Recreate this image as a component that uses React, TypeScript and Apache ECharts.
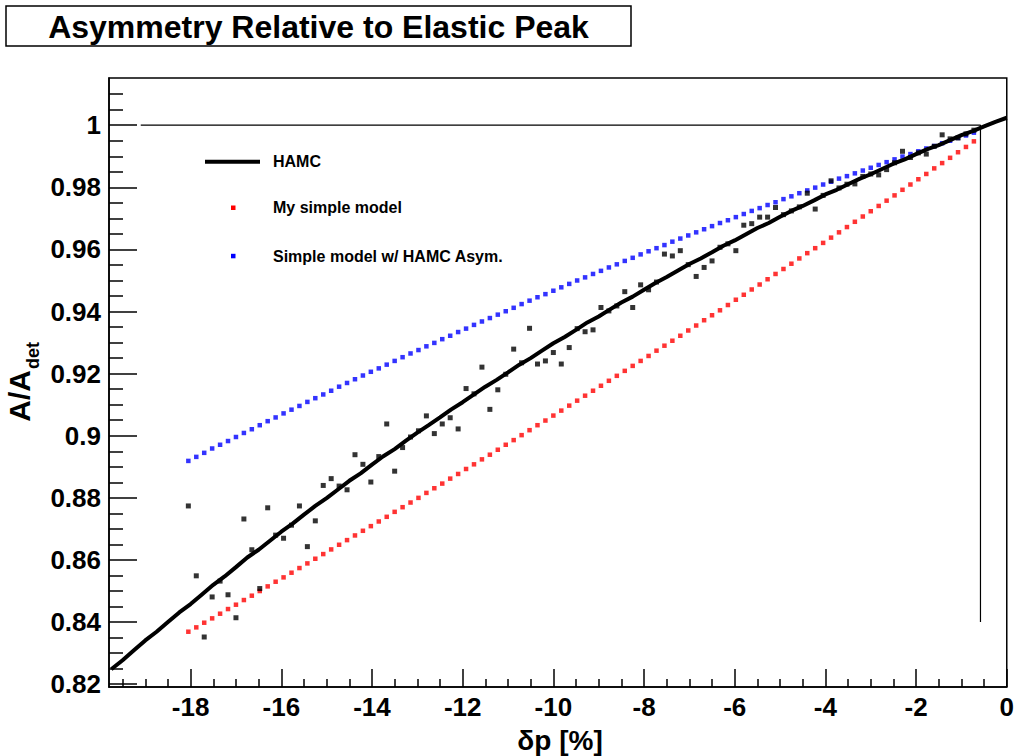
import React, { useEffect, useRef } from "react";
import * as echarts from "echarts";

// delta p [%] bin centres shared by the three point series
const DP = [
  -18.05, -17.875, -17.7, -17.525, -17.35, -17.175, -17, -16.825, -16.65, -16.475,
  -16.3, -16.125, -15.95, -15.775, -15.6, -15.425, -15.25, -15.075, -14.9, -14.725,
  -14.55, -14.375, -14.2, -14.025, -13.85, -13.675, -13.5, -13.325, -13.15, -12.975,
  -12.8, -12.625, -12.45, -12.275, -12.1, -11.925, -11.75, -11.575, -11.4, -11.225,
  -11.05, -10.875, -10.7, -10.525, -10.35, -10.175, -10, -9.825, -9.65, -9.475,
  -9.3, -9.125, -8.95, -8.775, -8.6, -8.425, -8.25, -8.075, -7.9, -7.725,
  -7.55, -7.375, -7.2, -7.025, -6.85, -6.675, -6.5, -6.325, -6.15, -5.975,
  -5.8, -5.625, -5.45, -5.275, -5.1, -4.925, -4.75, -4.575, -4.4, -4.225,
  -4.05, -3.875, -3.7, -3.525, -3.35, -3.175, -3, -2.825, -2.65, -2.475,
  -2.3, -2.125, -1.95, -1.775, -1.6, -1.425, -1.25, -1.075, -0.9, -0.725,
];

// "My simple model" (red)
const RED = [
  0.8369, 0.8383, 0.8398, 0.8412, 0.8427, 0.8442, 0.8456, 0.8471, 0.8485, 0.85,
  0.8515, 0.853, 0.8544, 0.8559, 0.8574, 0.8589, 0.8604, 0.8619, 0.8634, 0.8649,
  0.8664, 0.8679, 0.8694, 0.8709, 0.8724, 0.8739, 0.8755, 0.877, 0.8785, 0.88,
  0.8816, 0.8831, 0.8846, 0.8862, 0.8877, 0.8893, 0.8908, 0.8924, 0.8939, 0.8955,
  0.8971, 0.8986, 0.9002, 0.9018, 0.9034, 0.9049, 0.9065, 0.9081, 0.9097, 0.9113,
  0.9129, 0.9145, 0.9161, 0.9177, 0.9193, 0.9209, 0.9225, 0.9241, 0.9257, 0.9274,
  0.929, 0.9306, 0.9322, 0.9339, 0.9355, 0.9372, 0.9388, 0.9404, 0.9421, 0.9438,
  0.9454, 0.9471, 0.9487, 0.9504, 0.9521, 0.9537, 0.9554, 0.9571, 0.9588, 0.9604,
  0.9621, 0.9638, 0.9655, 0.9672, 0.9689, 0.9706, 0.9723, 0.974, 0.9757, 0.9774,
  0.9792, 0.9809, 0.9826, 0.9843, 0.9861, 0.9878, 0.9895, 0.9913, 0.993, 0.9948,
];

// "Simple model w/ HAMC Asym." (blue)
const BLUE = [
  0.8919, 0.8932, 0.8945, 0.8959, 0.8971, 0.8983, 0.8996, 0.9009, 0.9021, 0.9034,
  0.9047, 0.9059, 0.9072, 0.9084, 0.9096, 0.9109, 0.9121, 0.9133, 0.9145, 0.9158,
  0.917, 0.9182, 0.9194, 0.9206, 0.9217, 0.9229, 0.9241, 0.9253, 0.9265, 0.9276,
  0.9288, 0.9299, 0.9311, 0.9322, 0.9334, 0.9345, 0.9357, 0.9368, 0.9379, 0.939,
  0.9401, 0.9412, 0.9424, 0.9435, 0.9446, 0.9456, 0.9467, 0.9478, 0.9489, 0.95,
  0.951, 0.9521, 0.9531, 0.9542, 0.9552, 0.9563, 0.9573, 0.9584, 0.9594, 0.9604,
  0.9614, 0.9625, 0.9635, 0.9645, 0.9655, 0.9665, 0.9675, 0.9685, 0.9694, 0.9704,
  0.9714, 0.9724, 0.9733, 0.9743, 0.9752, 0.9762, 0.9771, 0.9781, 0.979, 0.9799,
  0.9809, 0.9818, 0.9828, 0.9836, 0.9845, 0.9854, 0.9863, 0.9872, 0.9881, 0.989,
  0.9899, 0.9907, 0.9916, 0.9925, 0.9933, 0.9942, 0.995, 0.9959, 0.9967, 0.9976,
];

// HAMC data points (black squares)
const BLACK = [
  0.8774, 0.8549, 0.8352, 0.8481, 0.8532, 0.8488, 0.8414, 0.8732, 0.8633, 0.8508,
  0.8768, 0.868, 0.867, 0.8712, 0.8774, 0.8643, 0.8726, 0.884, 0.8862, 0.8838,
  0.8826, 0.8939, 0.8908, 0.8851, 0.8933, 0.9038, 0.8886, 0.8962, 0.8996, 0.9016,
  0.9064, 0.9007, 0.9038, 0.9058, 0.9022, 0.9152, 0.9135, 0.9221, 0.9085, 0.9148,
  0.9198, 0.9279, 0.9235, 0.9346, 0.9231, 0.9241, 0.9268, 0.9231, 0.9284, 0.9345,
  0.9335, 0.9341, 0.9413, 0.9402, 0.9418, 0.9464, 0.9413, 0.9486, 0.947, 0.9495,
  0.9585, 0.9579, 0.9596, 0.9551, 0.9513, 0.9542, 0.9563, 0.9607, 0.9618, 0.9596,
  0.9678, 0.9683, 0.9704, 0.9704, 0.9735, 0.9712, 0.9724, 0.9737, 0.9781, 0.973,
  0.9774, 0.9821, 0.9798, 0.981, 0.9811, 0.9835, 0.9843, 0.984, 0.9857, 0.9879,
  0.9916, 0.9896, 0.9911, 0.9907, 0.9932, 0.9969, 0.9956, 0.9959, 0.9972, 0.9984,
];

// HAMC curve (thick black line)
const HAMC_X = [
  -19.75, -19.5, -19.25, -19, -18.75, -18.5, -18.25, -18, -17.75, -17.5,
  -17.25, -17, -16.75, -16.5, -16.25, -16, -15.75, -15.5, -15.25, -15,
  -14.75, -14.5, -14.25, -14, -13.75, -13.5, -13.25, -13, -12.75, -12.5,
  -12.25, -12, -11.75, -11.5, -11.25, -11, -10.75, -10.5, -10.25, -10,
  -9.75, -9.5, -9.25, -9, -8.75, -8.5, -8.25, -8, -7.75, -7.5,
  -7.25, -7, -6.75, -6.5, -6.25, -6, -5.75, -5.5, -5.25, -5,
  -4.75, -4.5, -4.25, -4, -3.75, -3.5, -3.25, -3, -2.75, -2.5,
  -2.25, -2, -1.75, -1.5, -1.25, -1, -0.75, -0.5, -0.25, 0,
];
const HAMC_Y = [
  0.8248, 0.8277, 0.8309, 0.8341, 0.8369, 0.84, 0.8431, 0.8458, 0.8489, 0.852,
  0.8547, 0.8577, 0.8608, 0.8633, 0.8662, 0.8691, 0.8717, 0.8746, 0.8774, 0.8799,
  0.8827, 0.8855, 0.8879, 0.8907, 0.8934, 0.8957, 0.8984, 0.901, 0.9034, 0.9059,
  0.9085, 0.9108, 0.9133, 0.9158, 0.918, 0.9204, 0.9229, 0.925, 0.9274, 0.9298,
  0.9318, 0.9341, 0.9365, 0.9384, 0.9407, 0.9429, 0.9448, 0.947, 0.9492, 0.9511,
  0.9532, 0.9553, 0.9571, 0.9591, 0.9612, 0.9629, 0.9649, 0.9669, 0.9685, 0.9705,
  0.9724, 0.974, 0.9758, 0.9777, 0.9792, 0.981, 0.9827, 0.9842, 0.9859, 0.9876,
  0.989, 0.9907, 0.9923, 0.9936, 0.9952, 0.9968, 0.9981, 0.9996, 1.0011, 1.0024,
];

// reference guide: A/Adet = 1 and the elastic-peak edge
const GUIDE = [
  [-19.1, 1],
  [-0.58, 1],
  [-0.58, 0.84],
];

const X_MAJOR = [-18, -16, -14, -12, -10, -8, -6, -4, -2, 0];
const X_MINOR = [
  -19.5, -19, -18.5, -17.5, -17, -16.5, -15.5, -15, -14.5, -13.5, -13, -12.5,
  -11.5, -11, -10.5, -9.5, -9, -8.5, -7.5, -7, -6.5, -5.5, -5, -4.5, -3.5, -3,
  -2.5, -1.5, -1, -0.5,
];
const Y_MAJOR = [0.82, 0.84, 0.86, 0.88, 0.9, 0.92, 0.94, 0.96, 0.98, 1.0];
const Y_MINOR = [
  0.825, 0.83, 0.835, 0.845, 0.85, 0.855, 0.865, 0.87, 0.875, 0.885, 0.89, 0.895,
  0.905, 0.91, 0.915, 0.925, 0.93, 0.935, 0.945, 0.95, 0.955, 0.965, 0.97, 0.975,
  0.985, 0.99, 0.995, 1.005, 1.01,
];

const TITLE = "Asymmetry Relative to Elastic Peak";
const LEGEND = ["HAMC", "My simple model", "Simple model w/ HAMC Asym."];

const FONT = '"Liberation Sans", Arial, Helvetica, sans-serif';
const X_MIN = -19.8;
const X_MAX = 0;
const Y_MIN = 0.8191;
const Y_MAX = 1.0152;

export default function App() {
  const ref = useRef<HTMLDivElement | null>(null);

  useEffect(() => {
    if (!ref.current) return;
    const chart = echarts.init(ref.current, undefined, { renderer: "svg" });

    const labelStyle = {
      color: "#000",
      fontFamily: FONT,
      fontWeight: "bold" as const,
      fontSize: 26,
    };

    const fmt = (v: number) => String(parseFloat(Number(v).toFixed(3)));

    const option: any = {
      animation: false,
      backgroundColor: "#fff",
      grid: {
        left: 109,
        right: 9,
        top: 78,
        bottom: 69,
        show: true,
        borderColor: "#000",
        borderWidth: 1.5,
        backgroundColor: "transparent",
      },
      xAxis: [
        {
          type: "value",
          min: X_MIN,
          max: X_MAX,
          position: "bottom",
          axisLine: { show: true, onZero: false, lineStyle: { color: "#000", width: 1.5 } },
          axisTick: {
            show: true,
            inside: true,
            length: 18,
            customValues: X_MAJOR,
            lineStyle: { color: "#000", width: 1.5 },
          },
          axisLabel: { ...labelStyle, customValues: X_MAJOR, margin: 7, formatter: fmt },
          splitLine: { show: false },
        },
        {
          type: "value",
          min: X_MIN,
          max: X_MAX,
          position: "bottom",
          axisLine: { show: false, onZero: false },
          axisTick: {
            show: true,
            inside: true,
            length: 8,
            customValues: X_MINOR,
            lineStyle: { color: "#000", width: 1.5 },
          },
          axisLabel: { show: false },
          splitLine: { show: false },
        },
      ],
      yAxis: [
        {
          type: "value",
          min: Y_MIN,
          max: Y_MAX,
          position: "left",
          axisLine: { show: true, onZero: false, lineStyle: { color: "#000", width: 1.5 } },
          axisTick: {
            show: true,
            inside: true,
            length: 28,
            customValues: Y_MAJOR,
            lineStyle: { color: "#000", width: 1.5 },
          },
          axisLabel: { ...labelStyle, customValues: Y_MAJOR, margin: 8, formatter: fmt },
          splitLine: { show: false },
        },
        {
          type: "value",
          min: Y_MIN,
          max: Y_MAX,
          position: "left",
          axisLine: { show: false, onZero: false },
          axisTick: {
            show: true,
            inside: true,
            length: 14,
            customValues: Y_MINOR,
            lineStyle: { color: "#000", width: 1.5 },
          },
          axisLabel: { show: false },
          splitLine: { show: false },
        },
      ],
      series: [
        {
          name: LEGEND[1],
          type: "scatter",
          data: DP.map((x, i) => [x, RED[i]]),
          symbol: "rect",
          symbolSize: 4.5,
          itemStyle: { color: "#ff0000" },
          silent: true,
          z: 2,
        },
        {
          name: LEGEND[2],
          type: "scatter",
          data: DP.map((x, i) => [x, BLUE[i]]),
          symbol: "rect",
          symbolSize: 4.5,
          itemStyle: { color: "#0000ff" },
          silent: true,
          z: 2,
        },
        {
          name: "HAMC points",
          type: "scatter",
          data: DP.map((x, i) => [x, BLACK[i]]),
          symbol: "rect",
          symbolSize: 5,
          itemStyle: { color: "#000" },
          silent: true,
          z: 3,
        },
        {
          name: "guide",
          type: "line",
          data: GUIDE,
          showSymbol: false,
          symbol: "none",
          lineStyle: { color: "#000", width: 1.2 },
          silent: true,
          z: 3,
        },
        {
          name: LEGEND[0],
          type: "line",
          data: HAMC_X.map((x, i) => [x, HAMC_Y[i]]),
          showSymbol: false,
          symbol: "none",
          lineStyle: { color: "#000", width: 4 },
          silent: true,
          z: 4,
        },
      ],
      graphic: [
        {
          type: "rect",
          shape: { x: 6, y: 6, width: 625, height: 40 },
          style: { fill: "#fff", stroke: "#000", lineWidth: 1.5 },
          z: 10,
        },
        {
          type: "text",
          x: 318.5,
          y: 27,
          style: {
            text: TITLE,
            fill: "#000",
            font: `bold 32px ${FONT}`,
            textAlign: "center",
            textVerticalAlign: "middle",
            verticalAlign: "middle",
          },
          z: 11,
        },
        // legend
        {
          type: "line",
          shape: { x1: 205, y1: 161.7, x2: 260, y2: 161.7 },
          style: { stroke: "#000", lineWidth: 4 },
          z: 11,
        },
        {
          type: "rect",
          shape: { x: 231, y: 205.5, width: 4.5, height: 4.5 },
          style: { fill: "#ff0000" },
          z: 11,
        },
        {
          type: "rect",
          shape: { x: 231, y: 253.8, width: 4.5, height: 4.5 },
          style: { fill: "#0000ff" },
          z: 11,
        },
        ...LEGEND.map((t, i) => ({
          type: "text",
          x: 273,
          y: [161.7, 207.7, 256][i],
          style: {
            text: t,
            fill: "#000",
            font: `bold 16px ${FONT}`,
            textAlign: "left",
            textVerticalAlign: "middle",
            verticalAlign: "middle",
          },
          z: 11,
        })),
        // x axis title
        {
          type: "text",
          x: 560,
          y: 740,
          style: {
            text: "δp [%]",
            fill: "#000",
            font: `bold 28px ${FONT}`,
            textAlign: "center",
            textVerticalAlign: "middle",
            verticalAlign: "middle",
          },
          z: 11,
        },
        // y axis title A/A_det
        {
          type: "group",
          x: 19,
          y: 382,
          rotation: Math.PI / 2,
          z: 11,
          children: [
            {
              type: "text",
              x: 12,
              y: 0,
              style: {
                text: "A/A",
                fill: "#000",
                font: `bold 30px ${FONT}`,
                textAlign: "right",
                textVerticalAlign: "middle",
                verticalAlign: "middle",
              },
            },
            {
              type: "text",
              x: 13,
              y: 14,
              style: {
                text: "det",
                fill: "#000",
                font: `bold 18px ${FONT}`,
                textAlign: "left",
                textVerticalAlign: "middle",
                verticalAlign: "middle",
              },
            },
          ],
        },
      ],
    };

    chart.setOption(option);
    return () => {
      chart.dispose();
    };
  }, []);

  return (
    <div
      ref={ref}
      style={{
        position: "fixed",
        left: 0,
        top: 0,
        width: 1017,
        height: 756,
        background: "#fff",
      }}
    />
  );
}
